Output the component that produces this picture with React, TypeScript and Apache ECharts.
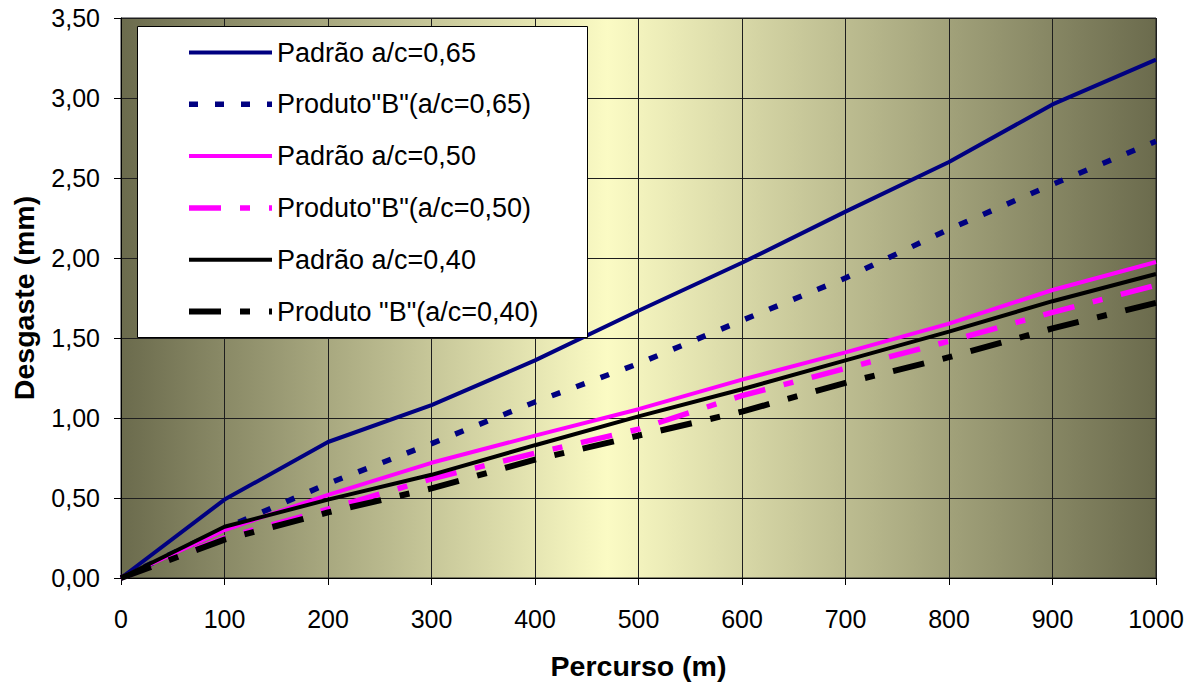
import React, { useEffect, useRef } from "react";
import * as echarts from "echarts";

const percurso = [0, 100, 200, 300, 400, 500, 600, 700, 800, 900, 1000];
const padrao065 = [0, 0.49, 0.85, 1.08, 1.36, 1.67, 1.97, 2.29, 2.6, 2.96, 3.24];
const produtoB065 = [0, 0.31, 0.59, 0.84, 1.1, 1.34, 1.61, 1.875, 2.18, 2.46, 2.73];
const padrao050 = [0, 0.3, 0.52, 0.72, 0.89, 1.055, 1.24, 1.41, 1.59, 1.8, 1.975];
const produtoB050 = [0, 0.25, 0.43, 0.62, 0.78, 0.93, 1.14, 1.31, 1.48, 1.66, 1.83];
const padrao040 = [0, 0.32, 0.49, 0.645, 0.83, 1.01, 1.18, 1.36, 1.54, 1.73, 1.9];
const produtoB040 = [0, 0.24, 0.41, 0.56, 0.74, 0.89, 1.04, 1.22, 1.38, 1.56, 1.72];

const seriesNames = [
  "Padrão a/c=0,65",
  'Produto"B"(a/c=0,65)',
  "Padrão a/c=0,50",
  'Produto"B"(a/c=0,50)',
  "Padrão a/c=0,40",
  'Produto "B"(a/c=0,40)',
];
const seriesColors = ["#000080", "#000080", "#ff00ff", "#ff00ff", "#000000", "#000000"];
const seriesWidths = [4, 5.5, 4, 5.5, 4, 6];
const seriesDash: any[] = ["solid", [9, 17], "solid", [32, 19, 10, 19], "solid", [32, 19, 10, 19]];
const seriesValues = [padrao065, produtoB065, padrao050, produtoB050, padrao040, produtoB040];

const FONT = "'Liberation Sans', Arial, sans-serif";

function pairs(vals: number[]) {
  return percurso.map((x, i) => [x, vals[i]]);
}

export default function App() {
  const ref = useRef<HTMLDivElement>(null);
  useEffect(() => {
    document.body.style.margin = "0";
    if (!ref.current) return;
    const chart = echarts.init(ref.current, null, { renderer: "svg" });
    chart.setOption({
      animation: false,
      textStyle: { fontFamily: FONT },
      grid: {
        left: 121,
        right: 40,
        top: 18,
        bottom: 107,
        show: true,
        borderColor: "#222",
        borderWidth: 1,
        backgroundColor: new echarts.graphic.LinearGradient(0, 0, 1, 0, [
          { offset: 0, color: "#6b6b4d" },
          { offset: 0.47, color: "#fbfbc4" },
          { offset: 1, color: "#6b6b4d" },
        ]),
      },
      graphic: [
        {
          type: "rect",
          left: 137,
          top: 26,
          z: 3,
          shape: { width: 450, height: 311 },
          style: { fill: "#fff", stroke: "#000", lineWidth: 1 },
        },
      ],
      legend: {
        orient: "vertical",
        left: 186,
        top: 39,
        z: 5,
        itemWidth: 83,
        itemHeight: 24,
        itemGap: 24.8,
        padding: 0,
        textStyle: { fontSize: 27, color: "#000", fontFamily: FONT, lineHeight: 26 },
        itemStyle: { opacity: 0 },
        data: seriesNames.map((name, i) => ({
          name,
          itemStyle: { opacity: 0 },
          lineStyle: { width: seriesWidths[i], type: seriesDash[i], color: seriesColors[i] },
        })),
      },
      xAxis: {
        type: "value",
        min: 0,
        max: 1000,
        interval: 100,
        name: "Percurso (m)",
        nameLocation: "middle",
        nameGap: 73,
        nameTextStyle: { fontSize: 28.5, fontWeight: "bold", color: "#000", fontFamily: FONT },
        axisLine: { show: true, onZero: false, lineStyle: { color: "#000", width: 1 } },
        axisTick: { show: true, length: 7, lineStyle: { color: "#000" } },
        axisLabel: {
          fontSize: 25,
          color: "#000",
          margin: 28,
          fontFamily: FONT,
          formatter: (v: number) => String(v),
        },
        splitLine: { show: true, lineStyle: { color: "#1e1e1e", width: 1 } },
      },
      yAxis: {
        type: "value",
        min: 0,
        max: 3.5,
        interval: 0.5,
        name: "Desgaste (mm)",
        nameLocation: "middle",
        nameGap: 83,
        nameTextStyle: { fontSize: 28.5, fontWeight: "bold", color: "#000", fontFamily: FONT },
        axisLine: { show: true, lineStyle: { color: "#000", width: 1 } },
        axisTick: { show: true, length: 7, lineStyle: { color: "#000" } },
        axisLabel: {
          fontSize: 25,
          color: "#000",
          margin: 21,
          fontFamily: FONT,
          formatter: (v: number) => v.toFixed(2).replace(".", ","),
        },
        splitLine: { show: true, lineStyle: { color: "#1e1e1e", width: 1 } },
      },
      series: seriesNames.map((name, i) => ({
        name,
        type: "line",
        data: pairs(seriesValues[i]),
        symbol: "none",
        lineStyle: { color: seriesColors[i], width: seriesWidths[i], type: seriesDash[i], cap: "butt" },
        itemStyle: { color: seriesColors[i] },
        z: 2,
      })),
    });
    return () => chart.dispose();
  }, []);
  return <div ref={ref} style={{ width: 1196, height: 685 }} />;
}
